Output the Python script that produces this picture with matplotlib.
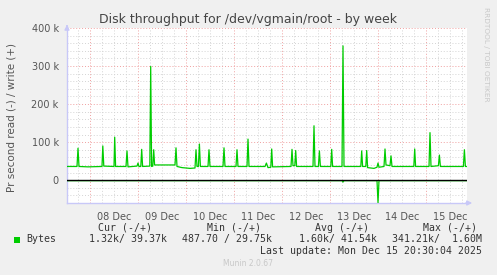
import matplotlib
matplotlib.use("Agg")
import matplotlib.pyplot as plt
from matplotlib.ticker import MultipleLocator, FixedLocator, FuncFormatter

#----------------------------------------------------------------------------------------#
# Data  (hours since 08 Dec 00:00, values in kB/s)

write_hours = [-11.5, -6.5, -6, -5.5, -1, 6, 6.4, 6.9, 12, 12.35, 12.8, 18, 18.5, 19,
               23.5, 24, 24.5, 25.4, 25.85, 26.3, 29.9, 30.35, 30.8, 31.4, 31.85, 32.3,
               42.5, 43, 43.5, 46, 50, 52.5, 53, 53.5, 54.2, 54.7, 55.2, 59, 59.5, 60,
               66.5, 67, 67.5, 73, 73.5, 74, 78.5, 79, 79.5, 87.5, 88.2, 88.8, 89, 90.4,
               90.85, 91.3, 100.5, 101, 101.5, 102.4, 102.85, 103.3, 111.5, 112, 112.5,
               114.2, 114.7, 115.2, 120.4, 120.85, 121.3, 126, 126.5, 127, 135.4, 135.85,
               136.3, 137.9, 138.35, 138.8, 142, 143.5, 144, 144.5, 147, 147.5, 148, 150,
               150.5, 151, 161.9, 162.35, 162.8, 169.5, 170, 170.5, 174.2, 174.7, 175.2,
               186.7, 187.2, 187.7, 188.5]
write_kb = [36, 36, 84, 36, 35, 36, 90, 37, 36, 113, 36, 36, 77, 35,
            37, 45, 36, 36, 81, 36, 37, 299, 36, 37, 80, 40,
            40, 85, 36, 33, 31, 32, 80, 36, 36, 95, 36, 36, 80, 36,
            36, 85, 36, 36, 80, 36, 36, 108, 36, 36, 45, 36, 33, 34,
            82, 35, 36, 81, 38, 38, 78, 36, 36, 143, 36,
            36, 77, 36, 36, 81, 36, 36, 353, 36, 36, 77,
            36, 36, 78, 33, 31, 34, 45, 34, 36, 82, 40, 38,
            64, 36, 36, 82, 36, 36, 125, 36, 38, 66, 36,
            36, 80, 36, 36]

read_hours = [-11.5, 126, 126.5, 127, 143.5, 144, 144.5, 188.5]
read_kb = [-1.3, -1.3, -5, -1.3, -1.3, -59, -1.3, -1.3]

day_labels = ["08 Dec", "09 Dec", "10 Dec", "11 Dec", "12 Dec", "13 Dec", "14 Dec", "15 Dec"]

legend_cols = ["Cur (-/+)", "Min (-/+)", "Avg (-/+)", "Max (-/+)"]
legend_vals = ["1.32k/ 39.37k", "487.70 / 29.75k", "1.60k/ 41.54k", "341.21k/  1.60M"]

#----------------------------------------------------------------------------------------#
# Figure

W, H = 497, 275
fig = plt.figure(figsize=(W / 100, H / 100), dpi=100, facecolor="#F0F0F0")
ax = fig.add_axes([67 / W, 1 - 203 / H, 400 / W, 175 / H])
ax.set_facecolor("white")

green = "#00CC00"
ax.plot([h for h in write_hours], [v * 1000 for v in write_kb], color=green, lw=0.9, zorder=3)
ax.plot(read_hours, [v * 1000 for v in read_kb], color=green, lw=0.9, zorder=3)
ax.axhline(0, color="black", lw=1.0, zorder=4)

ax.set_xlim(-11.5, 188.5)
ax.set_ylim(-60000, 400000)

# grid
ax.xaxis.set_major_locator(FixedLocator([24 * i for i in range(8)]))
ax.xaxis.set_minor_locator(MultipleLocator(6))
ax.yaxis.set_major_locator(MultipleLocator(100000))
ax.yaxis.set_minor_locator(MultipleLocator(20000))
ax.grid(which="minor", color="#D4D4D4", lw=0.7, linestyle=(0, (1, 2)))
ax.grid(which="major", color="#F0A0A0", lw=0.7, linestyle=(0, (1, 2)))
ax.set_axisbelow(True)

ax.tick_params(which="both", length=0, colors="#555555", labelsize=7)
ax.tick_params(axis="y", pad=6)
ax.set_xticklabels([])
for i, lab in enumerate(day_labels):
    ax.text(24 * i + 12, -0.05, lab, transform=ax.get_xaxis_transform(),
            ha="center", va="top", fontsize=7, color="#555555")

def kfmt(v, pos):
    if v < 0:
        return ""
    if v == 0:
        return "0"
    return "%d k" % (v / 1000)
ax.yaxis.set_major_formatter(FuncFormatter(kfmt))

for s in ["top", "right"]:
    ax.spines[s].set_visible(False)
for s in ["left", "bottom"]:
    ax.spines[s].set_color("#C8C8F8")
    ax.spines[s].set_linewidth(1.0)
# axis arrows
ax.annotate("", xy=(0, 1.035), xytext=(0, 0.99), xycoords="axes fraction",
            arrowprops=dict(arrowstyle="-|>", color="#C8C8F8", lw=1.0, mutation_scale=7), annotation_clip=False)
ax.annotate("", xy=(1.02, 0), xytext=(0.99, 0), xycoords="axes fraction",
            arrowprops=dict(arrowstyle="-|>", color="#C8C8F8", lw=1.0, mutation_scale=7), annotation_clip=False)

#----------------------------------------------------------------------------------------#
# Texts

fig.text(248 / W, 1 - 19.5 / H, "Disk throughput for /dev/vgmain/root - by week",
         ha="center", va="center", fontsize=9, color="#444444")
fig.text(12 / W, 1 - 117 / H, "Pr second read (-) / write (+)", rotation=90,
         ha="center", va="center", fontsize=7.5, color="#555555")
fig.text(486 / W, 1 - 54 / H, "RRDTOOL / TOBI OETIKER", rotation=270,
         ha="center", va="center", fontsize=5.3, color="#C8C8C8")

mono = "DejaVu Sans Mono"
head_x = [98.3, 206.7, 315, 422.7]
val_x = [89.3, 182.3, 299.3, 392.3]
for x, t in zip(head_x, legend_cols):
    fig.text(x / W, 1 - 228 / H, t, ha="left", va="center", fontsize=7.1, family=mono, color="#333333")
for x, t in zip(val_x, legend_vals):
    fig.text(x / W, 1 - 239.3 / H, t, ha="left", va="center", fontsize=7.1, family=mono, color="#333333")
fig.patches.append(plt.Rectangle((14 / W, 1 - 243 / H), 6 / W, 6 / H, transform=fig.transFigure,
                                 facecolor=green, edgecolor="none"))
fig.text(26.7 / W, 1 - 239.3 / H, "Bytes", ha="left", va="center", fontsize=7.1, family=mono, color="#333333")
fig.text(482.3 / W, 1 - 251 / H, "Last update: Mon Dec 15 20:30:04 2025", ha="right", va="center",
         fontsize=7.1, family=mono, color="#333333")
fig.text(248 / W, 1 - 264 / H, "Munin 2.0.67", ha="center", va="center", fontsize=5.5, color="#C8C8C8")

fig.savefig("out.png", dpi=100, facecolor=fig.get_facecolor())
